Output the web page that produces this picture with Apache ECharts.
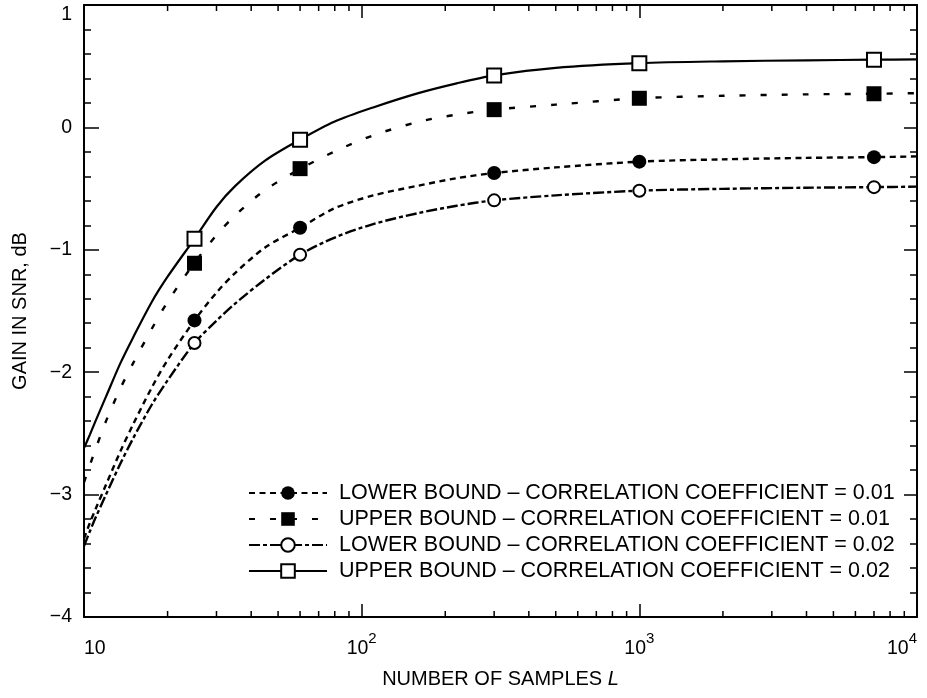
<!DOCTYPE html>
<html>
<head>
<meta charset="utf-8">
<script src="https://cdn.jsdelivr.net/npm/echarts@6/dist/echarts.min.js"></script>
<style>
  html, body { margin: 0; padding: 0; background: #fff; }
  #chart { width: 927px; height: 698px; }
</style>
</head>
<body>
<div id="chart"></div>
<script>
const FONT = '"Liberation Sans", Arial, Helvetica, sans-serif';

const curveL = [10, 10.5, 11, 12, 13.5, 15, 17.5, 20, 25, 30, 35, 45, 60, 80, 110, 160, 220, 300, 500, 1000, 2000, 4000, 7000, 10000];
const lowerBound01 = [-3.36, -3.23, -3.12, -2.92, -2.65, -2.43, -2.13, -1.90, -1.577, -1.35, -1.19, -0.98, -0.82, -0.66, -0.556, -0.476, -0.415, -0.373, -0.327, -0.28, -0.261, -0.249, -0.243, -0.237];
const upperBound01 = [-2.90, -2.76, -2.63, -2.40, -2.135, -1.93, -1.65, -1.425, -1.106, -0.88, -0.72, -0.51, -0.34, -0.196, -0.065, 0.045, 0.105, 0.145, 0.186, 0.238, 0.258, 0.27, 0.275, 0.28];
const lowerBound02 = [-3.42, -3.30, -3.19, -3.00, -2.75, -2.544, -2.27, -2.067, -1.762, -1.58, -1.44, -1.24, -1.04, -0.90, -0.79, -0.70, -0.64, -0.596, -0.555, -0.517, -0.502, -0.493, -0.488, -0.484];
const upperBound02 = [-2.62, -2.51, -2.40, -2.20, -1.93, -1.72, -1.43, -1.22, -0.91, -0.65, -0.48, -0.27, -0.10, 0.048, 0.163, 0.28, 0.36, 0.425, 0.487, 0.525, 0.54, 0.548, 0.553, 0.556];

// plotted symbols
const markerL = [25, 60, 300, 1000, 7000];
const lowerMarks01 = [-1.577, -0.82, -0.373, -0.28, -0.243];
const upperMarks01 = [-1.11, -0.337, 0.145, 0.238, 0.275];
const lowerMarks02 = [-1.762, -1.04, -0.596, -0.517, -0.488];
const upperMarks02 = [-0.91, -0.10, 0.425, 0.525, 0.553];

const seriesNames = [
  'LOWER BOUND \u2013 CORRELATION COEFFICIENT = 0.01',
  'UPPER BOUND \u2013 CORRELATION COEFFICIENT = 0.01',
  'LOWER BOUND \u2013 CORRELATION COEFFICIENT = 0.02',
  'UPPER BOUND \u2013 CORRELATION COEFFICIENT = 0.02'
];

// log minor ticks along top and bottom frame
const xMinorTicks = [20, 30, 40, 50, 60, 70, 80, 90, 200, 300, 400, 500, 600, 700, 800, 900, 2000, 3000, 4000, 5000, 6000, 7000, 8000, 9000];

const yMin = -4, yMax = 1;

const zip = (xs, ys) => xs.map((x, i) => [x, ys[i]]);

const styles = [
  { curve: lowerBound01, marks: lowerMarks01, symbol: 'circle', size: 14, dash: [6, 4.5], width: 2.4 },
  { curve: upperBound01, marks: upperMarks01, symbol: 'rect', size: 15, dash: [6, 15], width: 2.4 },
  { curve: lowerBound02, marks: lowerMarks02, symbol: 'emptyCircle', size: 12, dash: [11, 3, 4, 3], width: 2.4 },
  { curve: upperBound02, marks: upperMarks02, symbol: 'emptyRect', size: 14, dash: 'solid', width: 2.2 }
];

const series = [];
styles.forEach((s, i) => {
  series.push({
    name: seriesNames[i],
    type: 'line',
    data: zip(curveL, s.curve),
    smooth: 0.3,
    showSymbol: false,
    symbol: s.symbol,
    symbolSize: s.size,
    lineStyle: { color: '#000', width: s.width, type: s.dash },
    itemStyle: { color: '#000' },
    z: 2
  });
  series.push({
    name: seriesNames[i] + ' marks',
    type: 'scatter',
    data: zip(markerL, s.marks),
    symbol: s.symbol,
    symbolSize: s.size,
    itemStyle: { color: '#000', opacity: 1 },
    z: 3
  });
});

series.push({
  type: 'custom',
  silent: true,
  clip: false,
  data: xMinorTicks.map(v => [v, yMin]),
  encode: { x: 0, y: 1 },
  renderItem: (params, api) => {
    const L = api.value(0);
    const b = api.coord([L, yMin]);
    const t = api.coord([L, yMax]);
    return {
      type: 'group',
      children: [
        { type: 'line', shape: { x1: b[0], y1: b[1], x2: b[0], y2: b[1] - 6 }, style: { stroke: '#000', lineWidth: 1.5 } },
        { type: 'line', shape: { x1: t[0], y1: t[1], x2: t[0], y2: t[1] + 6 }, style: { stroke: '#000', lineWidth: 1.5 } }
      ]
    };
  },
  z: 4
});

const frameLine = { show: true, onZero: false, lineStyle: { color: '#000', width: 2 } };

const myChart = echarts.init(document.getElementById('chart'));
myChart.setOption({
  animation: false,
  backgroundColor: '#fff',
  textStyle: { fontFamily: FONT, color: '#000' },
  grid: { left: 84, right: 10, top: 5, bottom: 81, containLabel: false, outerBoundsMode: 'none' },
  legend: {
    orient: 'vertical',
    left: 243,
    top: 477,
    itemWidth: 78,
    itemHeight: 17,
    itemGap: 4,
    selectedMode: false,
    data: seriesNames,
    textStyle: { fontFamily: FONT, fontSize: 21.5, color: '#000', lineHeight: 21, padding: [0, 0, 0, 7] }
  },
  xAxis: [
    {
      type: 'log',
      logBase: 10,
      min: 10,
      max: 10000,
      position: 'bottom',
      axisLine: frameLine,
      axisTick: { inside: true, length: 13, lineStyle: { color: '#000', width: 1.5 } },
      splitLine: { show: false },
      axisLabel: {
        margin: 14,
        alignMinLabel: 'left',
        alignMaxLabel: 'right',
        formatter: v => v === 10 ? '{b|10}' : '{b|10}{s|' + Math.round(Math.log10(v)) + '}',
        rich: {
          b: { fontFamily: FONT, fontSize: 19.5, color: '#000', lineHeight: 28, verticalAlign: 'bottom' },
          s: { fontFamily: FONT, fontSize: 15, color: '#000', lineHeight: 16, verticalAlign: 'top' }
        }
      },
      name: '{n|NUMBER OF SAMPLES }{i|L}',
      nameLocation: 'middle',
      nameGap: 52,
      nameTextStyle: {
        rich: {
          n: { fontFamily: FONT, fontSize: 20, color: '#000' },
          i: { fontFamily: FONT, fontSize: 20, color: '#000', fontStyle: 'italic' }
        }
      }
    },
    {
      type: 'log',
      logBase: 10,
      min: 10,
      max: 10000,
      position: 'top',
      axisLine: frameLine,
      axisTick: { inside: true, length: 13, lineStyle: { color: '#000', width: 1.5 } },
      axisLabel: { show: false },
      splitLine: { show: false }
    }
  ],
  yAxis: [
    {
      type: 'value',
      min: yMin,
      max: yMax,
      interval: 1,
      position: 'left',
      axisLine: frameLine,
      axisTick: { inside: true, length: 15, lineStyle: { color: '#000', width: 1.5 } },
      minorTick: { show: true, splitNumber: 5, length: 7, lineStyle: { color: '#000', width: 1.5 } },
      splitLine: { show: false },
      axisLabel: {
        margin: 12,
        fontFamily: FONT,
        fontSize: 19.5,
        color: '#000',
        verticalAlignMaxLabel: 'top',
        formatter: v => v < 0 ? '\u2212' + (-v) : String(v)
      },
      name: 'GAIN IN SNR, dB',
      nameLocation: 'middle',
      nameGap: 54,
      nameTextStyle: { fontFamily: FONT, fontSize: 20, color: '#000' }
    },
    {
      type: 'value',
      min: yMin,
      max: yMax,
      interval: 1,
      position: 'right',
      axisLine: frameLine,
      axisTick: { inside: true, length: 13, lineStyle: { color: '#000', width: 1.5 } },
      minorTick: { show: true, splitNumber: 5, length: 7, lineStyle: { color: '#000', width: 1.5 } },
      splitLine: { show: false },
      axisLabel: { show: false }
    }
  ],
  series: series
});
</script>
</body>
</html>
